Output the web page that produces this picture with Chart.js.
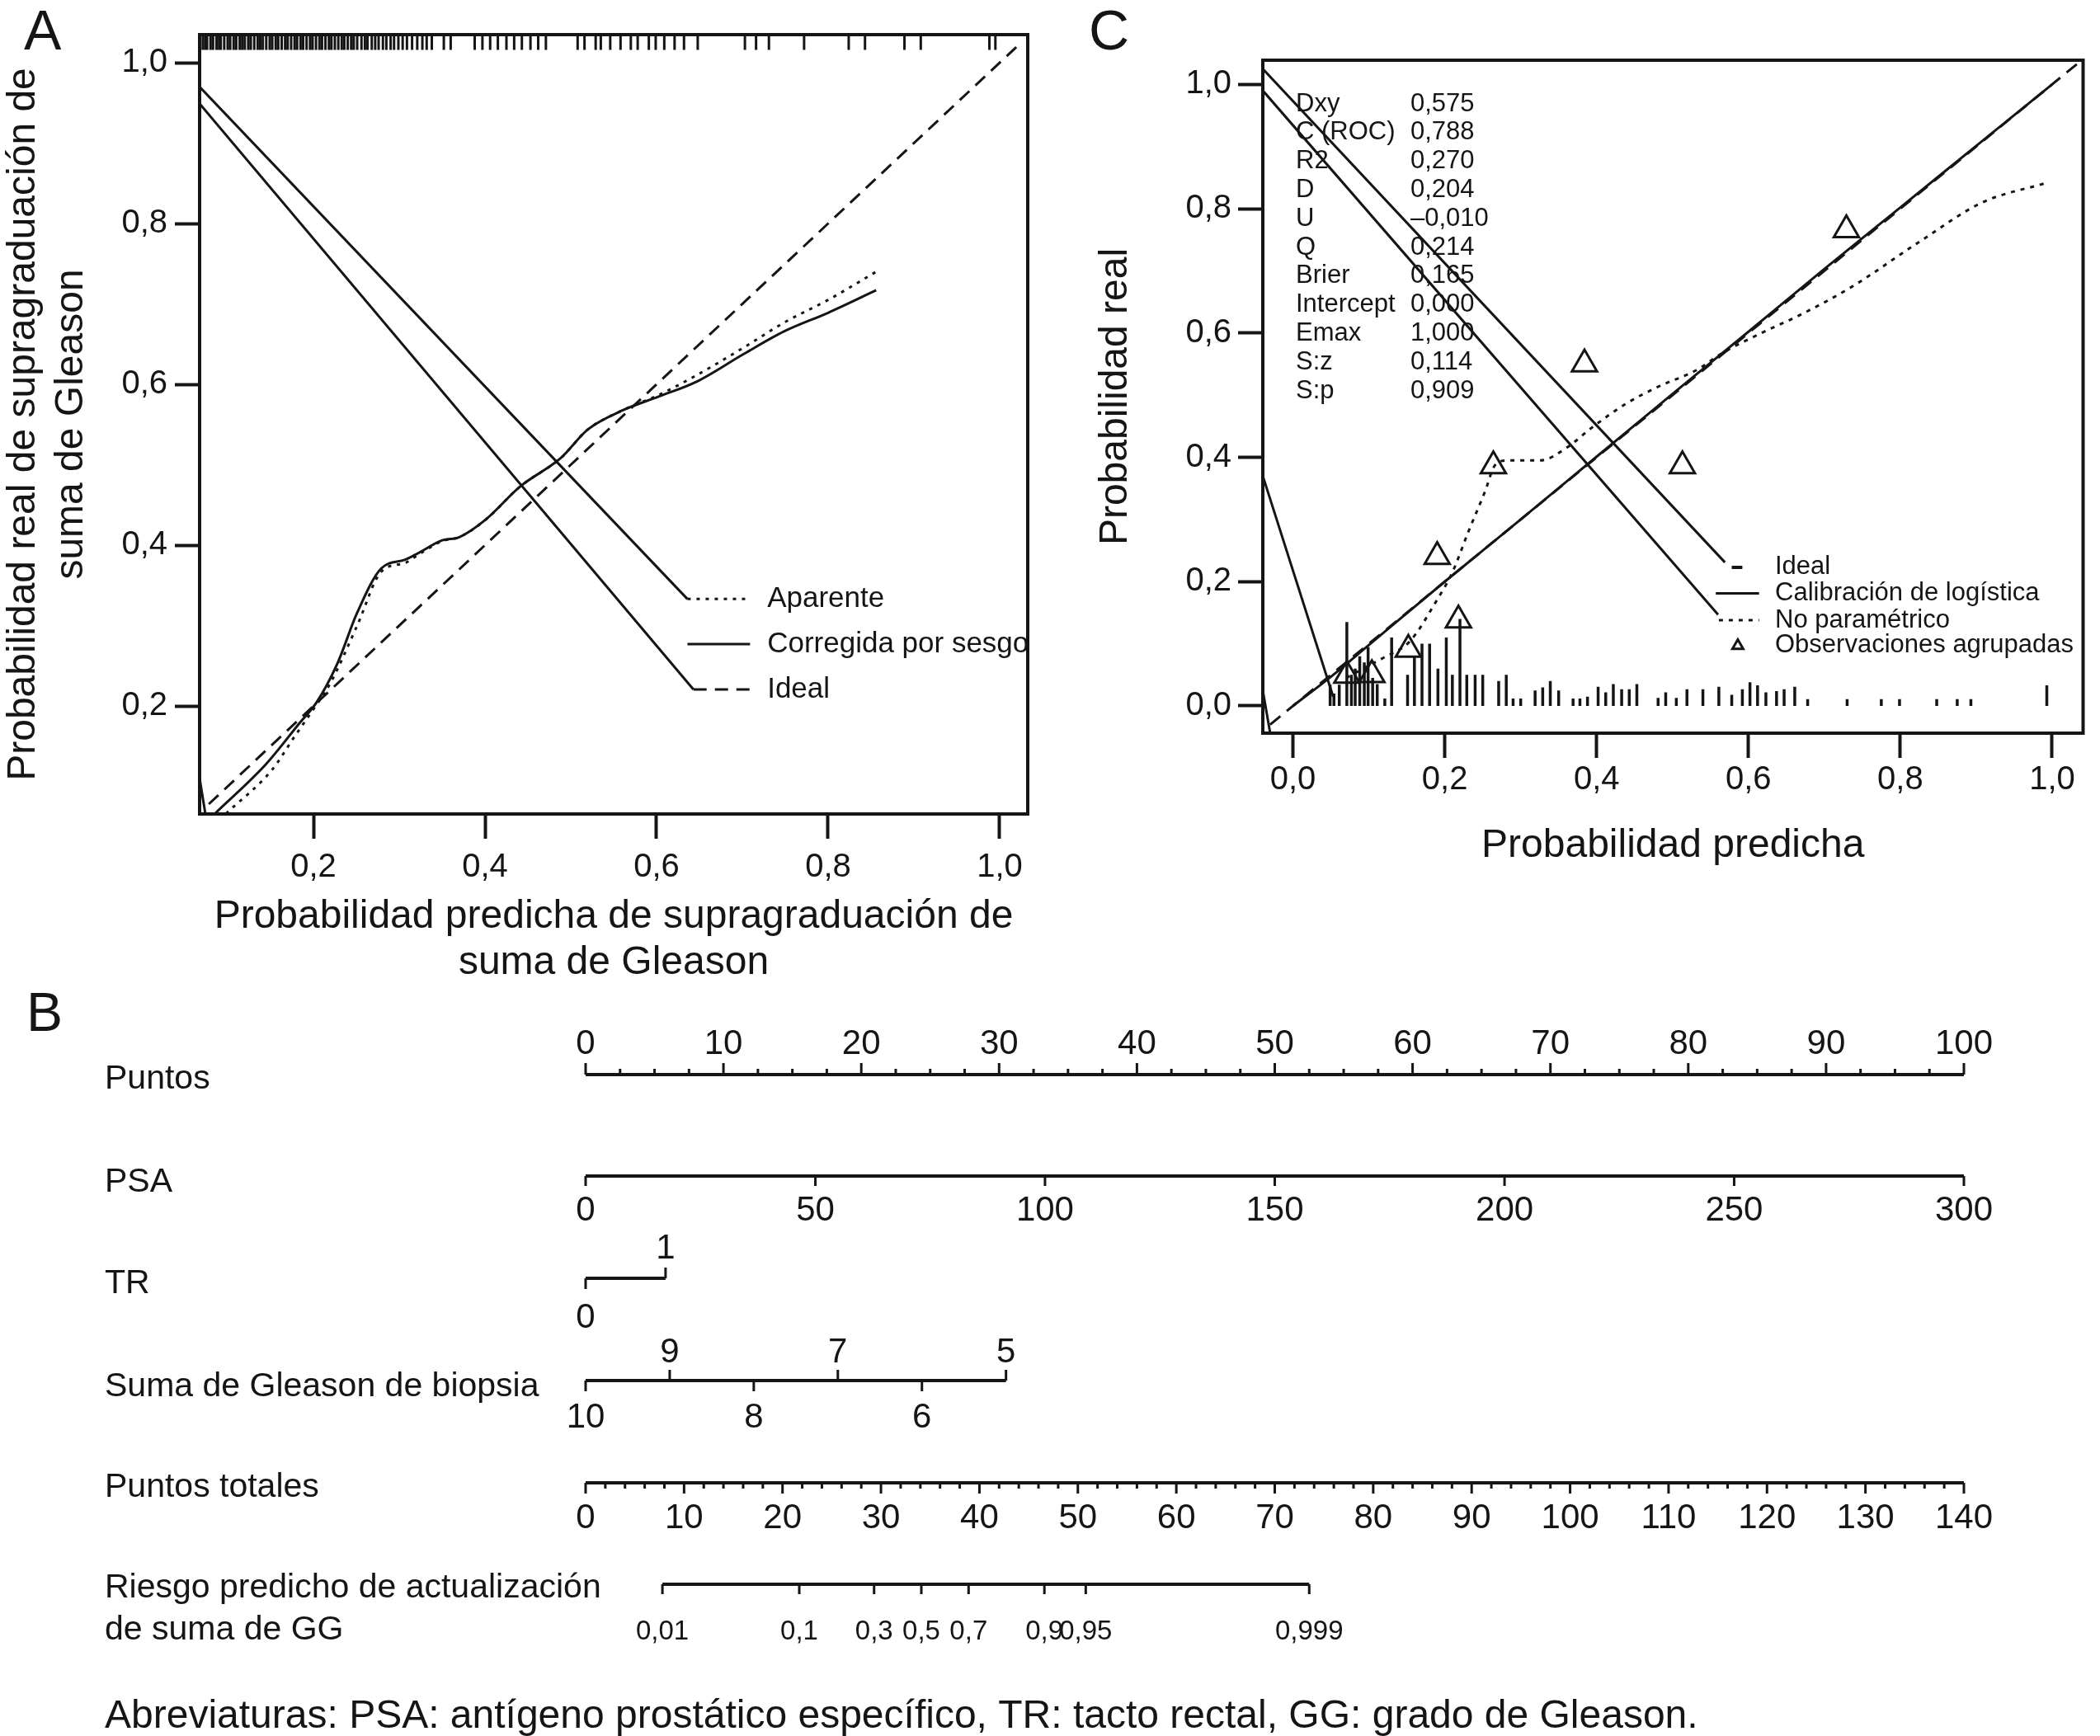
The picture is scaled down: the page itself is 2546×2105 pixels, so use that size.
<!DOCTYPE html>
<html>
<head>
<meta charset="utf-8">
<script src="https://cdn.jsdelivr.net/npm/chart.js@4.4.1/dist/chart.umd.min.js"></script>
<style>
  html, body { margin: 0; padding: 0; background: #fff; }
  #page { position: relative; width: 2546px; height: 2105px; overflow: hidden; background: #fff; }
  canvas { position: absolute; }
</style>
</head>
<body>
<div id="page">
  <canvas id="calA" width="1290" height="1200" style="left:0;top:0"></canvas>
  <canvas id="calC" width="1246" height="1100" style="left:1300px;top:0"></canvas>
  <canvas id="nomo" width="2546" height="905" style="left:0;top:1200px"></canvas>
</div>
<script>
const INK = '#151515';
const FONT = "'Liberation Sans', Arial, Helvetica, sans-serif";
Chart.defaults.font.family = FONT;
Chart.defaults.color = INK;

// ---------- panel A: calibración con bootstrap ----------
const aTicks = [0.2, 0.4, 0.6, 0.8, 1.0];
const aApparent = [[0.098,0.066],[0.152,0.121],[0.178,0.162],[0.2,0.196],[0.22,0.229],[0.251,0.30],[0.279,0.367],
  [0.307,0.378],[0.322,0.388],[0.35,0.405],[0.37,0.41],[0.401,0.432],[0.441,0.473],[0.488,0.508],[0.52,0.544],
  [0.559,0.567],[0.603,0.587],[0.646,0.611],[0.702,0.646],[0.749,0.677],[0.80,0.705],[0.856,0.74]];
const aCorrected = [[0.085,0.066],[0.145,0.128],[0.184,0.179],[0.204,0.205],[0.228,0.253],[0.251,0.316],[0.279,0.371],
  [0.307,0.382],[0.322,0.39],[0.35,0.406],[0.37,0.41],[0.401,0.432],[0.441,0.473],[0.488,0.508],[0.52,0.544],
  [0.559,0.567],[0.603,0.585],[0.646,0.603],[0.702,0.638],[0.749,0.666],[0.80,0.689],[0.856,0.717]];
const aIdeal = [[0.078,0.078],[1.025,1.025]];
const aRug = [0.071,0.074,0.076,0.08,0.083,0.087,0.09,0.092,0.096,0.1,0.103,0.107,0.11,0.114,0.117,0.12,0.124,
  0.127,0.131,0.135,0.138,0.141,0.145,0.149,0.152,0.156,0.159,0.163,0.167,0.17,0.174,0.178,0.181,0.185,0.188,
  0.192,0.196,0.199,0.203,0.207,0.21,0.214,0.218,0.221,0.225,0.229,0.233,0.236,0.24,0.244,0.247,0.251,0.256,
  0.26,0.263,0.268,0.272,0.276,0.281,0.285,0.29,0.294,0.299,0.304,0.309,0.315,0.321,0.327,0.332,0.338,
  0.352,0.36,0.388,0.397,0.406,0.415,0.425,0.434,0.443,0.453,0.462,0.471,0.508,0.516,0.529,0.535,0.546,
  0.558,0.57,0.578,0.591,0.599,0.609,0.621,0.632,0.648,0.703,0.716,0.731,0.772,0.824,0.843,0.889,0.908,0.988,0.995];
const aLeaders = [[[0.0673,0.970],[0.636,0.333]], [[0.0673,0.949],[0.643,0.2205]], [[0.0673,0.11],[0.074,0.066]]];
const aLegendLabels = ['Aparente', 'Corregida por sesgo', 'Ideal'];

// ---------- panel C: calibración logística ----------
const cTicks = [0.0, 0.2, 0.4, 0.6, 0.8, 1.0];
const cLogistic = [[0,0],[0.05,0.047],[0.1,0.098],[0.2,0.2],[0.3,0.3],[0.4,0.401],[0.5,0.502],[0.6,0.602],
  [0.7,0.703],[0.8,0.802],[0.9,0.901],[1.0,1.0]];
const cNonpar = [[0.07,0.045],[0.10,0.065],[0.12,0.078],[0.154,0.104],[0.189,0.169],[0.21,0.215],[0.231,0.28],
  [0.253,0.345],[0.266,0.387],[0.283,0.395],[0.326,0.395],[0.36,0.415],[0.394,0.448],[0.437,0.485],[0.48,0.513],
  [0.531,0.54],[0.566,0.568],[0.617,0.60],[0.668,0.629],[0.737,0.675],[0.823,0.745],[0.908,0.81],[0.994,0.842]];
const cIdeal = [[-0.03,-0.03],[1.04,1.04]];
const cGroups = [[0.071,0.049],[0.104,0.05],[0.152,0.091],[0.19,0.24],[0.218,0.138],[0.264,0.386],[0.384,0.55],
  [0.513,0.386],[0.729,0.766]];
const cSpikeX = [0.049,0.054,0.061,0.071,0.077,0.082,0.088,0.094,0.099,0.105,0.111,0.121,0.130,0.151,0.160,0.170,
  0.180,0.191,0.202,0.210,0.220,0.229,0.240,0.250,0.271,0.281,0.290,0.300,0.319,0.329,0.339,0.350,0.369,0.378,
  0.388,0.402,0.412,0.422,0.433,0.443,0.453,0.481,0.491,0.505,0.519,0.540,0.561,0.578,0.592,0.602,0.612,0.623,
  0.637,0.647,0.661,0.678,0.730,0.775,0.799,0.848,0.875,0.893,0.993];
const cSpikeH = [0.034,0.02,0.034,0.135,0.05,0.06,0.08,0.07,0.095,0.045,0.035,0.012,0.11,0.05,0.08,0.10,
  0.10,0.06,0.11,0.05,0.14,0.05,0.05,0.05,0.04,0.05,0.012,0.012,0.025,0.03,0.04,0.025,0.012,0.012,
  0.015,0.031,0.022,0.035,0.027,0.027,0.035,0.013,0.022,0.013,0.027,0.027,0.031,0.018,0.027,0.038,0.033,0.022,
  0.024,0.027,0.031,0.011,0.011,0.011,0.011,0.011,0.011,0.011,0.033];
const cLeaders = [[[-0.0397,1.025],[0.569,0.231]], [[-0.0397,0.99],[0.560,0.147]], [[-0.0397,0.37],[0.053,0.015]],
  [[-0.0397,0.025],[-0.03,-0.0438]]];
const cStatNames = ['Dxy','C (ROC)','R2','D','U','Q','Brier','Intercept','Emax','S:z','S:p'];
const cStatValues = ['0,575','0,788','0,270','0,204','\u20130,010','0,214','0,165','0,000','1,000','0,114','0,909'];
const cLegendLabels = ['Ideal', 'Calibración de logística', 'No paramétrico', 'Observaciones agrupadas'];

// ---------- panel B: nomograma ----------
const pointsTicks = [0,10,20,30,40,50,60,70,80,90,100];
const psaValues = [0,50,100,150,200,250,300];
const psaPoints = [0,16.67,33.33,50,66.67,83.33,100];
const trValues = [0,1];
const trPoints = [0,5.8];
const gleasonValues = [10,9,8,7,6,5];
const gleasonPoints = [0,6.1,12.2,18.3,24.4,30.5];
const totalTicks = [0,10,20,30,40,50,60,70,80,90,100,110,120,130,140];
const riskValues = ['0,01','0,1','0,3','0,5','0,7','0,9','0,95','0,999'];
const riskTotalPoints = [7.8,21.7,29.3,34.1,38.9,46.6,50.8,73.5];

// ---------- layout ----------
const A_X = [0.0673, 1.0327], A_Y = [0.0657, 1.0349];
const C_X = [-0.0397, 1.0408], C_Y = [-0.0438, 1.0389];
const A_LEG = { x0: 0.636, x1: 0.709, tx: 0.729, rows: [0.333, 0.277, 0.2205] };
const C_LEG = { tx: 0.635, rows: [0.223, 0.181, 0.138, 0.097] };
const ROW = { pts: 1303, psa: 1426, tr: 1550, gs: 1674, tot: 1798, risk: 1921 };
const trSide = [1, -1];              // 1 = marca hacia abajo, -1 = hacia arriba
const gsSide = [1, -1, 1, -1, 1, -1];

const fmt = v => v.toFixed(1).replace('.', ',');
const pts = arr => arr.map(([x, y]) => ({ x, y }));
function segs(list) {
  const out = [];
  list.forEach(([p, q]) => out.push({ x: p[0], y: p[1] }, { x: q[0], y: q[1] }, { x: q[0], y: null }));
  return out;
}
function line(data, extra) {
  return Object.assign({ data, showLine: true, borderColor: INK, backgroundColor: INK, borderWidth: 3,
    pointRadius: 0, spanGaps: false, fill: false, tension: 0, borderCapStyle: 'butt' }, extra || {});
}
function calAxis(range, ticks, title, o) {
  return {
    type: 'linear', min: range[0], max: range[1], offset: false,
    afterBuildTicks: s => { s.ticks = ticks.map(v => ({ value: v })); },
    ticks: { font: { size: 40, lineHeight: 1.2 }, color: INK, padding: o.pad, autoSkip: false, maxRotation: 0,
      callback: v => fmt(v) },
    grid: { offset: false, drawOnChartArea: false, drawTicks: true, tickLength: 30, tickWidth: 4, tickColor: INK, color: INK },
    border: { display: false },
    title: { display: true, text: title, color: INK, font: { size: 48, lineHeight: o.lh }, padding: o.tpad },
    afterFit: s => { if (o.w) s.width = o.w; if (o.h) s.height = o.h; }
  };
}
const boxPlugin = {
  id: 'box',
  afterDatasetsDraw(chart) {
    const { ctx, chartArea: a } = chart;
    ctx.save();
    ctx.strokeStyle = INK; ctx.lineWidth = 4;
    ctx.strokeRect(a.left, a.top, a.right - a.left, a.bottom - a.top);
    ctx.restore();
  }
};
const baseOptions = { responsive: false, animation: false, devicePixelRatio: 1,
  plugins: { legend: { display: false }, tooltip: { enabled: false } } };

// ---------- chart A ----------
const rugData = [];
aRug.forEach(v => rugData.push({ x: v, y: A_Y[1] }, { x: v, y: A_Y[1] - 0.019 }, { x: v, y: null }));

new Chart(document.getElementById('calA'), {
  type: 'scatter',
  data: { datasets: [
    line(pts(aCorrected), { cubicInterpolationMode: 'monotone' }),
    line(pts(aApparent), { cubicInterpolationMode: 'monotone', borderDash: [4, 7] }),
    line(pts(aIdeal), { borderDash: [16, 10] }),
    line(segs(aLeaders)),
    line(segs([[[A_LEG.x0, A_LEG.rows[0]], [A_LEG.x1, A_LEG.rows[0]]]]), { borderDash: [4, 7] }),
    line(segs([[[A_LEG.x0, A_LEG.rows[1]], [A_LEG.x1, A_LEG.rows[1]]]])),
    line(segs([[[A_LEG.x0 + 0.007, A_LEG.rows[2]], [A_LEG.x1, A_LEG.rows[2]]]]), { borderDash: [16, 10] }),
    line(rugData, { borderWidth: 3 })
  ] },
  options: Object.assign({}, baseOptions, {
    layout: { padding: { left: 0, top: 42, right: 44, bottom: 0 } },
    scales: {
      x: calAxis(A_X, aTicks, ['Probabilidad predicha de supragraduación de', 'suma de Gleason'],
        { pad: 11, lh: 1.15, tpad: { top: 0, bottom: 5 }, h: 213 }),
      y: calAxis(A_Y, aTicks, ['Probabilidad real de supragraduación de', 'suma de Gleason'],
        { pad: 9, lh: 1.2, tpad: { top: 0, bottom: 0 }, w: 242 })
    }
  }),
  plugins: [boxPlugin, {
    id: 'aText',
    afterDraw(chart) {
      const { ctx, chartArea: a, scales: { x, y } } = chart;
      ctx.save();
      ctx.fillStyle = INK;
      ctx.font = '68px ' + FONT; ctx.textBaseline = 'alphabetic'; ctx.textAlign = 'left';
      ctx.fillText('A', 29, 60);
      ctx.beginPath(); ctx.rect(a.left, a.top, a.right - a.left, a.bottom - a.top); ctx.clip();
      ctx.font = '35px ' + FONT; ctx.textBaseline = 'middle';
      aLegendLabels.forEach((t, i) => ctx.fillText(t, x.getPixelForValue(A_LEG.tx), y.getPixelForValue(A_LEG.rows[i])));
      ctx.restore();
    }
  }]
});

// ---------- chart C ----------
const spikeSegs = cSpikeX.map((v, i) => [[v, 0], [v, cSpikeH[i]]]);

new Chart(document.getElementById('calC'), {
  type: 'scatter',
  data: { datasets: [
    { data: pts(cGroups), showLine: false, pointStyle: 'triangle', pointRadius: 17.5, borderWidth: 3,
      borderColor: INK, backgroundColor: 'rgba(0,0,0,0)' },
    line(pts(cLogistic), { cubicInterpolationMode: 'monotone' }),
    line(pts(cNonpar), { cubicInterpolationMode: 'monotone', borderDash: [5, 7] }),
    line(pts(cIdeal), { borderDash: [16, 10] }),
    line(segs(cLeaders)),
    line(segs(spikeSegs), { borderWidth: 3.5 }),
    line(segs([[[0.578, C_LEG.rows[0]], [0.592, C_LEG.rows[0]]]]), { borderWidth: 4 }),
    line(segs([[[0.557, C_LEG.rows[1]], [0.614, C_LEG.rows[1]]]])),
    line(segs([[[0.561, C_LEG.rows[2]], [0.614, C_LEG.rows[2]]]]), { borderDash: [5, 7] }),
    { data: [{ x: 0.586, y: C_LEG.rows[3] }], showLine: false, pointStyle: 'triangle', pointRadius: 7.5,
      borderWidth: 3, borderColor: INK, backgroundColor: 'rgba(0,0,0,0)' }
  ] },
  options: Object.assign({}, baseOptions, {
    layout: { padding: { left: 0, top: 73, right: 8, bottom: 0 } },
    scales: {
      x: calAxis(C_X, cTicks, 'Probabilidad predicha', { pad: 3, lh: 1.2, tpad: { top: 0, bottom: 45 }, h: 211 }),
      y: calAxis(C_Y, cTicks, 'Probabilidad real', { pad: 8, lh: 1.2, tpad: { top: 24, bottom: 0 }, w: 231 })
    }
  }),
  plugins: [boxPlugin, {
    id: 'cText',
    afterDraw(chart) {
      const { ctx, chartArea: a, scales: { x, y } } = chart;
      ctx.save();
      ctx.fillStyle = INK;
      ctx.font = '68px ' + FONT; ctx.textBaseline = 'alphabetic'; ctx.textAlign = 'left';
      ctx.fillText('C', 20, 60);
      ctx.font = '31px ' + FONT; ctx.textBaseline = 'middle';
      cStatNames.forEach((t, i) => {
        const py = a.top + 53 + i * 34.8;
        ctx.fillText(t, a.left + 40, py);
        ctx.fillText(cStatValues[i], a.left + 179, py);
      });
      cLegendLabels.forEach((t, i) => ctx.fillText(t, x.getPixelForValue(C_LEG.tx), y.getPixelForValue(C_LEG.rows[i])));
      ctx.restore();
    }
  }]
});

// ---------- nomograma ----------
const lineSegs = [], tickSegs = [], lineSegsT = [], tickSegsT = [];
lineSegs.push([[0, ROW.pts], [100, ROW.pts]]);
for (let v = 0; v <= 100; v += 2.5) {
  const major = pointsTicks.includes(v);
  tickSegs.push([[v, ROW.pts], [v, ROW.pts - (major ? 14 : 7)]]);
}
lineSegs.push([[psaPoints[0], ROW.psa], [psaPoints[psaPoints.length - 1], ROW.psa]]);
psaPoints.forEach(p => tickSegs.push([[p, ROW.psa], [p, ROW.psa + 12]]));
lineSegs.push([[trPoints[0], ROW.tr], [trPoints[1], ROW.tr]]);
trPoints.forEach((p, i) => tickSegs.push([[p, ROW.tr], [p, ROW.tr + 13 * trSide[i]]]));
lineSegs.push([[gleasonPoints[0], ROW.gs], [gleasonPoints[gleasonPoints.length - 1], ROW.gs]]);
gleasonPoints.forEach((p, i) => tickSegs.push([[p, ROW.gs], [p, ROW.gs + 13 * gsSide[i]]]));
lineSegsT.push([[0, ROW.tot], [140, ROW.tot]]);
for (let v = 0; v <= 140; v += 2) {
  const major = totalTicks.includes(v);
  tickSegsT.push([[v, ROW.tot], [v, ROW.tot + (major ? 13 : 7)]]);
}
lineSegsT.push([[riskTotalPoints[0], ROW.risk], [riskTotalPoints[riskTotalPoints.length - 1], ROW.risk]]);
riskTotalPoints.forEach(p => tickSegsT.push([[p, ROW.risk], [p, ROW.risk + 12]]));

const rowLabels = [['Puntos', 1309], ['PSA', 1434], ['TR', 1557], ['Suma de Gleason de biopsia', 1682],
  ['Puntos totales', 1804], ['Riesgo predicho de actualización', 1926], ['de suma de GG', 1977]];

new Chart(document.getElementById('nomo'), {
  type: 'scatter',
  data: { datasets: [
    line(segs(lineSegs), { borderWidth: 4, clip: false }),
    line(segs(tickSegs), { borderWidth: 3, clip: false }),
    line(segs(lineSegsT), { borderWidth: 4, xAxisID: 'xt', clip: false }),
    line(segs(tickSegsT), { borderWidth: 3, xAxisID: 'xt', clip: false })
  ] },
  options: Object.assign({}, baseOptions, {
    layout: { padding: { left: 710, right: 165, top: 0, bottom: 0 } },
    scales: {
      x: { type: 'linear', min: 0, max: 100, display: false },
      xt: { type: 'linear', axis: 'x', min: 0, max: 140, display: false },
      y: { type: 'linear', min: 1200, max: 2105, reverse: true, display: false }
    }
  }),
  plugins: [{
    id: 'nomoText',
    afterDraw(chart) {
      const { ctx, scales: { x, xt, y } } = chart;
      const Y = v => y.getPixelForValue(v);
      ctx.save();
      ctx.fillStyle = INK;
      ctx.textAlign = 'left'; ctx.textBaseline = 'alphabetic';
      ctx.font = '66px ' + FONT;
      ctx.fillText('B', 32, 50);
      ctx.font = '48px ' + FONT;
      ctx.fillText('Abreviaturas: PSA: antígeno prostático específico, TR: tacto rectal, GG: grado de Gleason.', 127, 895);
      ctx.textBaseline = 'middle';
      ctx.font = '41px ' + FONT;
      rowLabels.forEach(([t, v]) => ctx.fillText(t, 127, Y(v)));
      ctx.textAlign = 'center';
      ctx.font = '42px ' + FONT;
      pointsTicks.forEach(v => ctx.fillText(String(v), x.getPixelForValue(v), Y(ROW.pts - 37)));
      psaValues.forEach((v, i) => ctx.fillText(String(v), x.getPixelForValue(psaPoints[i]), Y(ROW.psa + 42)));
      trValues.forEach((v, i) => ctx.fillText(String(v), x.getPixelForValue(trPoints[i]), Y(trSide[i] < 0 ? ROW.tr - 36 : ROW.tr + 48)));
      gleasonValues.forEach((v, i) => ctx.fillText(String(v), x.getPixelForValue(gleasonPoints[i]),
        Y(gsSide[i] < 0 ? ROW.gs - 34 : ROW.gs + 45)));
      totalTicks.forEach(v => ctx.fillText(String(v), xt.getPixelForValue(v), Y(ROW.tot + 43)));
      ctx.font = '33px ' + FONT;
      riskValues.forEach((t, i) => ctx.fillText(t, xt.getPixelForValue(riskTotalPoints[i]), Y(ROW.risk + 58)));
      ctx.restore();
    }
  }]
});
</script>
</body>
</html>
